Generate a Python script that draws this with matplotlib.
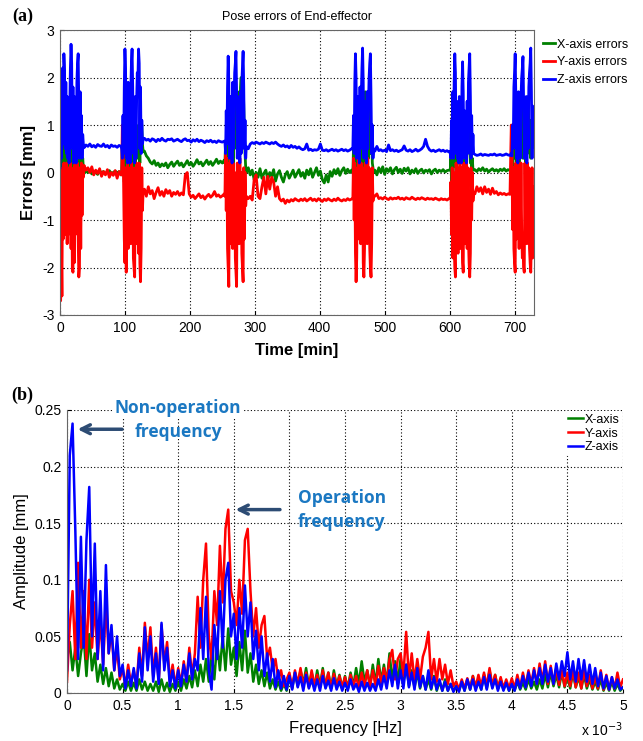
import numpy as np
import matplotlib.pyplot as plt

plt.rcParams['font.family'] = ['Liberation Sans', 'DejaVu Sans']
plt.rcParams['axes.unicode_minus'] = False

# ---------------- (a) pose errors ----------------
# each segment: first minute and sampling step (bursts 1 min, quiet parts 3 min)
seg_start = [0, 37, 95, 130, 254, 290, 451, 485, 601, 639, 695]
seg_step = [1, 3, 1, 3, 1, 3, 1, 3, 1, 3, 1]

x_err = [
    [0.0, -0.5, 0.4, -0.3, 0.8, 0.2, 1.0, 0.5, -0.2, 0.7, 0.1, 0.6, -0.3, 0.5, 0.0, 0.4, 0.9, 1.0, 0.6,
     -0.4, 0.5, 0.0, 0.8, 0.1, 0.5, -0.2, 0.6, 0.9, 1.0, 0.3, -0.3, 0.6, 0.2, 0.5, 0.1, 0.3, 0.1],
    [-0.02, 0.03, 0.0, 0.05, -0.03, 0.02, 0.0, -0.04, 0.03, 0.0, 0.02, -0.03, 0.01, 0.04, -0.02, 0.0,
     0.03, -0.01, 0.02, -0.05],
    [0.0, 0.6, 0.4, 0.1, -0.2, 0.5, 0.8, -0.3, 0.4, 0.9, 0.2, 0.7, -0.1, 0.6, 0.3, 0.9, 1.0, 0.5, -0.2,
     0.4, 0.8, 0.1, 0.6, 0.9, 0.3, 0.7, 1.0, 0.6, 0.2, 0.8, 1.1, 1.0, 0.6, 0.45],
    [0.45, 0.35, 0.3, 0.22, 0.18, 0.25, 0.15, 0.2, 0.12, 0.18, 0.14, 0.2, 0.1, 0.17, 0.22, 0.13, 0.19,
     0.24, 0.15, 0.2, 0.12, 0.18, 0.25, 0.16, 0.21, 0.13, 0.19, 0.27, 0.18, 0.22, 0.14, 0.2, 0.26, 0.17,
     0.23, 0.15, 0.21, 0.28, 0.19, 0.24, 0.2, 0.26],
    [0.2, 0.6, 0.0, 0.9, 0.4, 1.2, 0.8, -0.2, 0.7, 1.1, 0.3, 0.9, 1.4, 0.2, 1.0, 1.6, 1.9, 1.3, 0.5, 1.5,
     0.6, 1.2, 1.7, 0.4, 1.8, 2.0, 1.5, 0.7, 1.9, 1.4, 0.8, 0.4, 0.1, 0.0],
    [0.1, -0.05, 0.05, -0.15, 0.0, -0.1, 0.08, -0.12, -0.02, 0.05, -0.15, 0.0, -0.08, 0.06, -0.18, -0.03,
     0.04, -0.1, -0.2, -0.05, 0.02, -0.12, -0.04, 0.05, -0.1, -0.02, 0.06, -0.08, 0.0, -0.12, 0.05, -0.05,
     0.08, -0.1, 0.0, 0.1, -0.06, 0.03, -0.15, -0.22, -0.05, -0.2, 0.02, -0.08, 0.06, -0.03, 0.08, -0.06,
     0.04, 0.1, -0.02, 0.07, 0.0, 0.05],
    [0.0, 0.5, -0.2, 0.8, 1.2, 0.6, -0.1, 0.9, 0.3, 1.1, 0.5, 1.3, 0.2, 1.5, 1.8, 1.2, 0.6, -0.2, 1.0,
     1.7, 0.4, 1.2, 0.8, 1.5, 0.3, 1.0, 1.6, 1.3, 0.4, 0.8, 0.2, 0.1, 0.0],
    [0.05, -0.05, 0.1, 0.0, 0.12, -0.04, 0.08, 0.02, 0.1, -0.03, 0.06, 0.11, 0.0, 0.07, -0.02, 0.09, 0.03,
     0.1, -0.03, 0.05, 0.0, 0.08, -0.02, 0.04, 0.07, -0.01, 0.05, 0.02, 0.06, -0.03, 0.04, 0.07, 0.0,
     0.05, 0.02, 0.06, 0.01, 0.04, 0.05],
    [0.05, 0.3, -0.2, 0.6, 0.1, 0.9, 0.4, 1.1, 0.7, -0.1, 0.8, 0.3, 1.0, 0.5, 1.2, 0.2, 0.9, 0.6, 1.3,
     1.0, 0.5, -0.1, 0.7, 0.4, 1.1, 0.2, 0.8, 1.2, 0.6, 1.0, 0.5, 0.2, 0.6, 0.1, 0.3, 0.05, 0.05],
    [0.06, 0.02, 0.08, 0.04, 0.1, 0.03, 0.07, 0.01, 0.05, 0.08, 0.03, 0.06, 0.02, 0.07, 0.04, 0.08, 0.03,
     0.06, 0.04],
    [0.05, 0.4, 0.0, 0.7, 0.3, 1.0, 1.2, 0.6, -0.2, 0.9, 0.4, 1.3, 0.2, 1.0, 0.5, 1.4, 1.7, 1.1, 0.3,
     1.0, 0.5, 1.2, 0.2, 0.9, 0.6, 1.3, 1.6, 1.0, 0.4, 1.1, 0.3, 0.8, 0.5, 1.0, 0.7, 0.6],
]

y_err = [
    [-0.3, -2.7, -1.5, -2.6, 0.1, -1.4, 0.2, -0.9, 0.1, -1.3, 0.2, -1.5, -0.2, -1.3, 0.1, -0.8, 0.2,
     -1.6, 0.0, -2.0, -2.1, 0.1, -1.9, 0.2, -1.3, 0.1, -1.2, 0.2, -1.4, -2.2, -2.0, 0.1, -1.6, 0.2,
     -0.9, 0.0, -0.1],
    [0.15, 0.05, 0.1, 0.0, 0.12, -0.05, 0.05, -0.02, 0.08, -0.08, 0.02, -0.05, 0.06, -0.1, 0.0, -0.06,
     0.04, -0.12, 0.02, -0.05],
    [-0.05, 1.0, 0.8, -0.3, -1.4, -1.9, 0.1, -2.1, -1.2, 0.2, -1.6, 0.1, -1.3, 0.0, -1.5, 0.2, -1.1,
     0.1, -1.8, -2.0, -2.2, 0.1, -1.5, 0.2, -1.3, 0.0, -1.7, 0.2, -1.9, -2.3, -1.6, 0.1, -0.8, -0.4],
    [-0.35, -0.5, -0.3, -0.45, -0.38, -0.55, -0.42, -0.32, -0.48, -0.4, -0.5, -0.36, -0.44, -0.38,
     -0.5, -0.42, -0.46, -0.4, -0.48, -0.43, -0.47, -0.05, 0.0, -0.45, -0.52, -0.48, -0.55, -0.5,
     -0.45, -0.53, -0.49, -0.56, -0.5, -0.46, -0.52, -0.48, -0.4, -0.5, -0.47, -0.52, -0.49, -0.45],
    [-0.5, 0.5, -0.8, 0.3, -1.6, -2.0, -2.4, 0.2, -1.5, 0.3, -1.2, 0.1, -1.6, 0.2, -1.4, 0.0, -1.8,
     -2.1, -2.4, 0.2, -1.3, 0.1, -1.5, 0.3, -1.1, 0.0, -1.7, -2.0, -2.3, 0.1, -1.4, 0.0, -0.7, -0.5],
    [-0.55, -0.5, -0.58, -0.15, -0.05, -0.5, -0.55, -0.3, -0.1, -0.45, -0.08, -0.35, -0.1, -0.2, -0.5,
     -0.3, -0.55, -0.6, -0.56, -0.65, -0.58, -0.62, -0.57, -0.6, -0.55, -0.58, -0.6, -0.56, -0.59,
     -0.55, -0.6, -0.57, -0.54, -0.59, -0.56, -0.6, -0.55, -0.58, -0.61, -0.56, -0.59, -0.55, -0.58,
     -0.6, -0.56, -0.59, -0.54, -0.58, -0.6, -0.57, -0.59, -0.55, -0.58, -0.56],
    [-0.55, 0.3, -1.0, 0.2, -1.7, -2.3, -1.8, 0.1, -1.4, 0.3, -1.2, 0.0, -1.5, 0.2, -1.1, 0.1, -1.9,
     -2.2, -1.6, 0.2, -1.3, 0.0, -1.5, 0.3, -1.0, 0.1, -1.6, -2.0, -2.2, -1.5, 0.1, -0.6, -0.5],
    [-0.5, -0.45, -0.55, -0.53, -0.56, -0.52, -0.55, -0.57, -0.53, -0.56, -0.54, -0.55, -0.52, -0.56,
     -0.54, -0.57, -0.53, -0.55, -0.56, -0.52, -0.55, -0.57, -0.54, -0.56, -0.53, -0.55, -0.57, -0.54,
     -0.56, -0.55, -0.57, -0.54, -0.56, -0.58, -0.55, -0.57, -0.56, -0.58, -0.55],
    [-0.55, -0.2, -1.3, 0.1, -1.8, 0.0, -1.5, -2.0, -2.2, 0.2, -1.4, 0.1, -1.7, 0.0, -1.2, 0.2, -1.6,
     0.1, -1.3, -1.9, -2.1, 0.2, -1.5, 0.0, -1.2, 0.2, -1.6, 0.1, -1.4, -1.9, -2.2, -1.7, 0.1, -1.0,
     0.0, -0.6, -0.45],
    [-0.45, -0.3, -0.4, -0.32, -0.45, -0.3, -0.42, -0.35, -0.46, -0.33, -0.44, -0.4, -0.47, -0.43,
     -0.46, -0.44, -0.47, -0.45, -0.46],
    [1.0, 0.6, -1.2, 0.1, -1.6, -1.9, -2.1, 0.2, -1.4, 0.0, -1.1, 0.2, -1.6, 0.1, -1.3, 0.2, -1.2,
     -1.8, -1.5, -2.0, -2.1, 0.2, -1.3, 0.0, -1.5, 0.2, -1.2, 0.1, -1.6, -1.9, -2.1, -1.4, 0.1, -1.8,
     -1.5, -0.3],
]

z_err = [
    [0.1, 1.4, 0.3, 1.2, 2.2, 0.6, 2.5, 2.1, 0.5, 1.9, 0.4, 1.6, 0.3, 1.5, 0.2, 1.3, 2.2, 2.7, 2.3, 0.5,
     1.8, 0.2, 1.6, 0.4, 1.5, 0.2, 1.9, 2.3, 2.5, 1.4, 0.3, 1.7, 0.4, 1.2, 0.3, 0.8, 0.6],
    [0.52, 0.58, 0.55, 0.6, 0.54, 0.57, 0.53, 0.59, 0.56, 0.55, 0.6, 0.54, 0.57, 0.52, 0.58, 0.55, 0.56,
     0.53, 0.57, 0.55],
    [0.5, 0.3, 1.2, 0.4, 1.8, 2.6, 2.2, 0.3, 1.5, 0.2, 1.9, 0.6, 1.4, 0.2, 1.7, 2.3, 2.6, 1.8, 0.4, 1.2,
     0.2, 1.6, 0.3, 1.5, 2.1, 2.0, 2.6, 2.3, 0.5, 1.8, 0.4, 1.1, 0.6, 0.7],
    [0.72, 0.68, 0.7, 0.66, 0.71, 0.69, 0.65, 0.7, 0.67, 0.72, 0.68, 0.66, 0.7, 0.69, 0.71, 0.66, 0.68,
     0.7, 0.67, 0.65, 0.69, 0.71, 0.67, 0.68, 0.64, 0.69, 0.66, 0.7, 0.65, 0.68, 0.66, 0.63, 0.67, 0.65,
     0.68, 0.64, 0.66, 0.63, 0.67, 0.65, 0.64, 0.66],
    [0.65, 0.4, 1.3, 0.6, 1.8, 2.45, 1.9, 0.3, 1.6, 0.4, 1.4, 0.2, 1.9, 0.5, 1.5, 2.1, 2.3, 2.55, 1.7,
     0.3, 1.6, 0.4, 1.3, 0.2, 1.7, 0.4, 1.9, 2.2, 2.55, 1.8, 0.5, 1.1, 0.3, 0.55],
    [0.5, 0.6, 0.63, 0.61, 0.64, 0.62, 0.6, 0.63, 0.61, 0.64, 0.62, 0.6, 0.63, 0.61, 0.64, 0.6, 0.57,
     0.55, 0.58, 0.54, 0.56, 0.52, 0.57, 0.53, 0.55, 0.51, 0.54, 0.5, 0.48, 0.5, 0.6, 0.47, 0.49, 0.46,
     0.48, 0.47, 0.49, 0.6, 0.47, 0.46, 0.48, 0.45, 0.47, 0.49, 0.46, 0.48, 0.45, 0.47, 0.49, 0.46,
     0.48, 0.45, 0.47, 0.5],
    [0.5, 1.2, 0.4, 1.9, 2.5, 2.0, 0.3, 1.6, 0.4, 1.3, 0.2, 1.8, 0.5, 1.6, 2.2, 2.62, 1.9, 0.3, 1.5,
     0.4, 1.2, 0.2, 1.7, 0.5, 1.4, 2.0, 2.3, 2.5, 1.6, 0.4, 1.0, 0.3, 0.5],
    [0.45, 0.55, 0.46, 0.48, 0.45, 0.47, 0.44, 0.58, 0.46, 0.48, 0.45, 0.47, 0.44, 0.46, 0.48, 0.56,
     0.47, 0.45, 0.48, 0.44, 0.46, 0.49, 0.45, 0.47, 0.5, 0.55, 0.7, 0.55, 0.48, 0.45, 0.47, 0.44, 0.46,
     0.48, 0.45, 0.47, 0.44, 0.46, 0.43],
    [0.45, 0.3, 1.1, 0.5, 1.7, 0.3, 1.9, 2.5, 2.1, 0.4, 1.5, 0.3, 1.2, 0.2, 1.6, 0.4, 1.4, 0.2, 1.8,
     2.33, 1.7, 0.3, 1.3, 0.5, 1.1, 0.2, 1.5, 0.4, 1.9, 2.2, 2.5, 1.6, 0.3, 1.2, 0.4, 0.8, 0.4],
    [0.38, 0.36, 0.37, 0.39, 0.36, 0.38, 0.37, 0.36, 0.38, 0.37, 0.39, 0.36, 0.37, 0.38, 0.36, 0.37,
     0.39, 0.37, 0.36],
    [0.4, 0.35, 1.0, 0.5, 1.8, 2.1, 2.5, 1.6, 0.3, 1.4, 0.2, 1.7, 0.4, 1.3, 0.3, 1.6, 2.0, 2.2, 2.44,
     1.5, 0.3, 1.2, 0.4, 1.6, 0.2, 1.3, 0.5, 1.8, 2.1, 2.3, 2.62, 1.7, 0.3, 1.4, 1.0, 1.2],
]

# ---------------- (b) amplitude spectra, 0.025e-3 Hz apart ----------------
freq_step = 0.025  # x 10^-3 Hz

x_amp = [0.03, 0.045, 0.02, 0.04, 0.015, 0.035, 0.05, 0.015, 0.052, 0.02,
         0.035, 0.01, 0.025, 0.008, 0.022, 0.006, 0.018, 0.004, 0.012, 0.003,
         0.008, 0.002, 0.01, 0.002, 0.009, 0.002, 0.012, 0.003, 0.01, 0.002,
         0.008, 0.002, 0.01, 0.001, 0.012, 0.002, 0.009, 0.001, 0.008, 0.002,
         0.01, 0.002, 0.012, 0.004, 0.015, 0.005, 0.02, 0.006, 0.025, 0.01,
         0.03, 0.01, 0.035, 0.012, 0.045, 0.02, 0.05, 0.02, 0.057, 0.025,
         0.04, 0.015, 0.045, 0.02, 0.055, 0.018, 0.035, 0.01, 0.025, 0.008,
         0.02, 0.006, 0.018, 0.004, 0.012, 0.003, 0.01, 0.002, 0.008, 0.002,
         0.014, 0.004, 0.018, 0.006, 0.02, 0.008, 0.022, 0.006, 0.018, 0.005,
         0.02, 0.006, 0.022, 0.005, 0.018, 0.004, 0.02, 0.006, 0.016, 0.004,
         0.015, 0.004, 0.018, 0.006, 0.022, 0.008, 0.028, 0.01, 0.02, 0.006,
         0.025, 0.008, 0.03, 0.01, 0.025, 0.008, 0.035, 0.012, 0.028, 0.01,
         0.03, 0.01, 0.025, 0.006, 0.02, 0.005, 0.018, 0.004, 0.015, 0.003,
         0.012, 0.003, 0.015, 0.002, 0.01, 0.002, 0.012, 0.002, 0.008, 0.002,
         0.006, 0.002, 0.01, 0.002, 0.012, 0.003, 0.015, 0.004, 0.012, 0.003,
         0.016, 0.004, 0.02, 0.005, 0.016, 0.004, 0.012, 0.003, 0.01, 0.002,
         0.008, 0.002, 0.01, 0.003, 0.009, 0.003, 0.012, 0.004, 0.01, 0.003,
         0.012, 0.004, 0.016, 0.005, 0.018, 0.006, 0.016, 0.005, 0.018, 0.005,
         0.015, 0.004, 0.018, 0.005, 0.014, 0.004, 0.016, 0.004, 0.012, 0.003,
         0.01, 0.003, 0.012, 0.002, 0.009, 0.002, 0.01, 0.002, 0.008, 0.002,
         0.005]

y_amp = [0.01, 0.06, 0.09, 0.03, 0.115, 0.04, 0.09, 0.03, 0.1, 0.04,
         0.08, 0.03, 0.065, 0.025, 0.08, 0.035, 0.055, 0.02, 0.04, 0.012,
         0.022, 0.006, 0.025, 0.008, 0.02, 0.006, 0.04, 0.015, 0.062, 0.03,
         0.058, 0.015, 0.04, 0.01, 0.06, 0.025, 0.045, 0.01, 0.025, 0.006,
         0.022, 0.008, 0.028, 0.01, 0.04, 0.015, 0.035, 0.085, 0.04, 0.1,
         0.132, 0.05, 0.03, 0.09, 0.06, 0.13, 0.08, 0.145, 0.162, 0.09,
         0.08, 0.06, 0.1, 0.07, 0.135, 0.145, 0.09, 0.05, 0.075, 0.04,
         0.06, 0.068, 0.03, 0.04, 0.02, 0.03, 0.012, 0.02, 0.006, 0.012,
         0.018, 0.005, 0.02, 0.008, 0.022, 0.006, 0.018, 0.005, 0.02, 0.007,
         0.016, 0.005, 0.02, 0.006, 0.018, 0.004, 0.017, 0.006, 0.015, 0.005,
         0.014, 0.004, 0.016, 0.006, 0.015, 0.004, 0.018, 0.005, 0.02, 0.006,
         0.02, 0.006, 0.024, 0.008, 0.022, 0.01, 0.03, 0.038, 0.012, 0.03,
         0.035, 0.015, 0.054, 0.012, 0.035, 0.01, 0.03, 0.012, 0.032, 0.04,
         0.054, 0.012, 0.03, 0.01, 0.03, 0.012, 0.025, 0.008, 0.02, 0.006,
         0.01, 0.003, 0.012, 0.004, 0.013, 0.004, 0.015, 0.005, 0.016, 0.006,
         0.018, 0.006, 0.022, 0.006, 0.016, 0.004, 0.014, 0.004, 0.012, 0.004,
         0.013, 0.004, 0.016, 0.005, 0.018, 0.006, 0.02, 0.008, 0.022, 0.008,
         0.026, 0.01, 0.028, 0.008, 0.024, 0.008, 0.022, 0.007, 0.02, 0.006,
         0.018, 0.006, 0.02, 0.005, 0.018, 0.004, 0.02, 0.006, 0.016, 0.004,
         0.015, 0.004, 0.02, 0.003, 0.016, 0.003, 0.014, 0.004, 0.018, 0.005,
         0.012]

z_amp = [0.02, 0.21, 0.238, 0.143, 0.03, 0.138, 0.04, 0.135, 0.182, 0.05,
         0.132, 0.03, 0.09, 0.02, 0.113, 0.035, 0.06, 0.02, 0.05, 0.015,
         0.025, 0.004, 0.02, 0.006, 0.022, 0.004, 0.035, 0.01, 0.058, 0.02,
         0.05, 0.01, 0.035, 0.008, 0.062, 0.02, 0.04, 0.006, 0.02, 0.004,
         0.02, 0.006, 0.025, 0.01, 0.035, 0.012, 0.03, 0.02, 0.075, 0.03,
         0.085, 0.02, 0.003, 0.06, 0.03, 0.09, 0.04, 0.1, 0.115, 0.05,
         0.07, 0.03, 0.075, 0.04, 0.095, 0.05, 0.08, 0.03, 0.055, 0.02,
         0.05, 0.015, 0.035, 0.01, 0.03, 0.005, 0.02, 0.004, 0.015, 0.003,
         0.015, 0.003, 0.018, 0.005, 0.014, 0.002, 0.016, 0.004, 0.012, 0.002,
         0.012, 0.002, 0.015, 0.004, 0.011, 0.002, 0.013, 0.003, 0.01, 0.002,
         0.009, 0.002, 0.012, 0.003, 0.008, 0.001, 0.01, 0.002, 0.009, 0.002,
         0.008, 0.002, 0.012, 0.003, 0.015, 0.004, 0.02, 0.006, 0.025, 0.004,
         0.02, 0.004, 0.025, 0.005, 0.018, 0.003, 0.022, 0.005, 0.015, 0.003,
         0.02, 0.004, 0.014, 0.003, 0.012, 0.002, 0.01, 0.002, 0.008, 0.001,
         0.006, 0.001, 0.01, 0.002, 0.012, 0.003, 0.012, 0.002, 0.01, 0.003,
         0.014, 0.003, 0.016, 0.004, 0.012, 0.002, 0.01, 0.002, 0.009, 0.002,
         0.008, 0.002, 0.012, 0.004, 0.015, 0.005, 0.018, 0.006, 0.02, 0.008,
         0.022, 0.008, 0.025, 0.01, 0.022, 0.008, 0.026, 0.012, 0.028, 0.015,
         0.036, 0.012, 0.028, 0.01, 0.03, 0.012, 0.029, 0.01, 0.025, 0.008,
         0.022, 0.006, 0.018, 0.004, 0.015, 0.003, 0.014, 0.004, 0.012, 0.003,
         0.005]

colors = ['#008000', '#ff0000', '#0000ff']
err_labels = ['X-axis errors', 'Y-axis errors', 'Z-axis errors']
amp_labels = ['X-axis', 'Y-axis', 'Z-axis']
note_blue = '#1b78c2'
arrow_navy = '#2d4c74'
note_font = 'Open Sans'


def join_segments(segments):
    t = np.concatenate([s + d * np.arange(len(v)) for s, d, v in zip(seg_start, seg_step, segments)])
    v = np.concatenate([np.asarray(v, float) for v in segments])
    return t, v


def matlab_grid(ax):
    ax.grid(True, color='k', linestyle=(0, (1, 2)), linewidth=0.8)
    ax.set_axisbelow(True)
    ax.tick_params(direction='in', length=3, labelsize=10, pad=4)


fig = plt.figure(figsize=(6.43, 7.41), dpi=100)

# ---- panel (a)
ax1 = fig.add_axes([0.0933, 0.5749, 0.7372, 0.3846])
for segs, c, lab in zip([x_err, y_err, z_err], colors, err_labels):
    t, v = join_segments(segs)
    ax1.plot(t, v, color=c, lw=2.0, label=lab)
ax1.set_xlim(0, 730)
ax1.set_ylim(-3, 3)
ax1.set_xticks(range(0, 701, 100))
ax1.set_yticks(range(-3, 4))
matlab_grid(ax1)
for s in ax1.spines.values():
    s.set_color('#666666')
ax1.set_title('Pose errors of End-effector', fontsize=9, pad=7)
ax1.set_xlabel('Time [min]', fontsize=12, fontweight='bold', labelpad=6)
ax1.set_ylabel('Errors [mm]', fontsize=12, fontweight='bold', labelpad=4)
ax1.legend(loc='upper left', bbox_to_anchor=(1.0, 1.0), frameon=False, fontsize=9,
           handlelength=1.0, handletextpad=0.1, labelspacing=0.45, borderaxespad=0.3)
fig.text(0.036, 0.978, '(a)', fontsize=13, fontweight='bold', family='Liberation Serif',
         ha='center', va='center')

# ---- panel (b)
ax2 = fig.add_axes([0.1042, 0.0648, 0.8647, 0.3819])
for amp, c, lab in zip([x_amp, y_amp, z_amp], colors, amp_labels):
    f = freq_step * np.arange(len(amp))
    ax2.plot(f, amp, color=c, lw=1.8, label=lab)
ax2.set_xlim(0, 5)
ax2.set_ylim(0, 0.25)
ax2.set_xticks(np.arange(0, 5.01, 0.5))
ax2.set_xticklabels(['0', '0.5', '1', '1.5', '2', '2.5', '3', '3.5', '4', '4.5', '5'])
ax2.set_yticks([0, 0.05, 0.1, 0.15, 0.2, 0.25])
ax2.set_yticklabels(['0', '0.05', '0.1', '0.15', '0.2', '0.25'])
matlab_grid(ax2)
ax2.spines['top'].set_visible(False)
ax2.spines['right'].set_visible(False)
ax2.spines['left'].set_color('#666666')
ax2.spines['bottom'].set_color('#666666')
ax2.set_xlabel('Frequency [Hz]', fontsize=12, labelpad=6)
ax2.set_ylabel('Amplitude [mm]', fontsize=12, labelpad=4)
leg = ax2.legend(loc='upper right', frameon=True, fontsize=9, handlelength=1.2,
                 handletextpad=0.1, labelspacing=0.15, borderaxespad=0.1, borderpad=0.2)
leg.get_frame().set_edgecolor('none')
leg.get_frame().set_facecolor('white')
leg.get_frame().set_alpha(1)
fig.text(0.936, 0.015, r'x 10$^{-3}$', fontsize=10, ha='center', va='center')
fig.text(0.034, 0.467, '(b)', fontsize=13, fontweight='bold', family='Liberation Serif',
         ha='center', va='center')

# annotations
ax2.annotate('', xy=(0.07, 0.233), xytext=(0.52, 0.233),
             arrowprops=dict(arrowstyle='->', color=arrow_navy, lw=2.5, mutation_scale=16))
ax2.text(1.0, 0.252, 'Non-operation', color=note_blue, fontsize=12.5, fontweight='bold',
         family=note_font, ha='center', va='center', clip_on=False,
         bbox=dict(facecolor='white', edgecolor='none', pad=0.5))
ax2.text(1.0, 0.2305, 'frequency', color=note_blue, fontsize=12.5, fontweight='bold',
         family=note_font, ha='center', va='center')
ax2.annotate('', xy=(1.49, 0.162), xytext=(1.94, 0.162),
             arrowprops=dict(arrowstyle='->', color=arrow_navy, lw=2.5, mutation_scale=16))
ax2.text(2.47, 0.172, 'Operation', color=note_blue, fontsize=12.5, fontweight='bold',
         family=note_font, ha='center', va='center')
ax2.text(2.47, 0.151, 'frequency', color=note_blue, fontsize=12.5, fontweight='bold',
         family=note_font, ha='center', va='center')

fig.savefig('out.png', dpi=100)
